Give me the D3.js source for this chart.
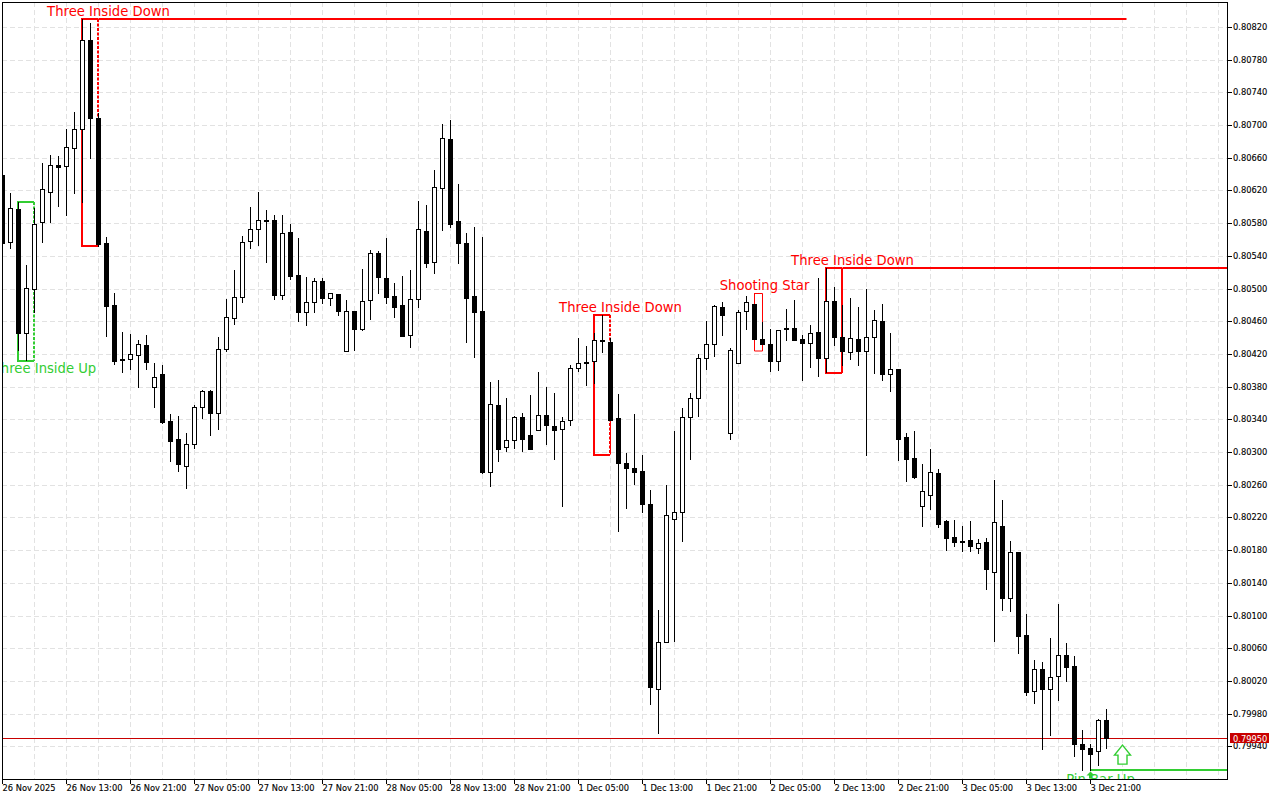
<!DOCTYPE html>
<html>
<head>
<meta charset="utf-8">
<title>Candles</title>
<script src="https://cdn.jsdelivr.net/npm/d3@7/dist/d3.min.js"></script>
<style>
  html, body { margin: 0; padding: 0; background: #fff; }
  svg { display: block; }
  .axis text { font-family: "DejaVu Sans", sans-serif; font-size: 8.3px; fill: #000; stroke: #000; stroke-width: 0.12px; }
  .axis line { stroke: #000; shape-rendering: crispEdges; }
  .label { font-family: "DejaVu Sans", sans-serif; font-size: 13.2px; text-anchor: middle; }
</style>
</head>
<body>
<svg id="chart" width="1280" height="800"></svg>

<script>
// hourly bars
var opens = [
  0.80639,0.80557,0.80597,0.80446,0.80499,0.80581,0.80618,0.80651,0.80650,0.80672,
  0.80695,0.80804,0.80709,0.80556,0.80480,0.80414,0.80414,0.80419,0.80431,0.80380,
  0.80395,0.80338,0.80316,0.80283,0.80310,0.80355,0.80375,0.80348,0.80426,0.80464,
  0.80490,0.80558,0.80573,0.80584,0.80584,0.80492,0.80569,0.80517,0.80471,0.80484,
  0.80509,0.80488,0.80493,0.80424,0.80473,0.80451,0.80486,0.80543,0.80513,0.80491,
  0.80480,0.80443,0.80487,0.80570,0.80532,0.80623,0.80683,0.80583,0.80556,0.80491,
  0.80473,0.80276,0.80358,0.80306,0.80315,0.80343,0.80321,0.80327,0.80345,0.80332,
  0.80328,0.80339,0.80403,0.80410,0.80411,0.80437,0.80435,0.80342,0.80287,0.80280,
  0.80277,0.80236,0.80010,0.80068,0.80218,0.80227,0.80343,0.80366,0.80415,0.80432,
  0.80477,0.80323,0.80409,0.80473,0.80481,0.80438,0.80432,0.80411,0.80452,0.80452,
  0.80438,0.80433,0.80447,0.80415,0.80485,0.80441,0.80422,0.80438,0.80424,0.80441,
  0.80460,0.80395,0.80402,0.80318,0.80293,0.80234,0.80247,0.80274,0.80216,0.80196,
  0.80191,0.80192,0.80183,0.80190,0.80153,0.80209,0.80121,0.80178,0.80076,0.80008,
  0.80035,0.80010,0.80026,0.80052,0.80038,0.79943,0.79938,0.79934,0.79972
];
var highs = [
  0.80639,0.80617,0.80606,0.80529,0.80599,0.80654,0.80663,0.80662,0.80695,0.80716,
  0.80830,0.80825,0.80715,0.80563,0.80495,0.80447,0.80444,0.80437,0.80443,0.80409,
  0.80406,0.80346,0.80344,0.80323,0.80358,0.80376,0.80376,0.80441,0.80487,0.80523,
  0.80564,0.80600,0.80618,0.80596,0.80590,0.80590,0.80579,0.80562,0.80514,0.80513,
  0.80513,0.80495,0.80493,0.80486,0.80473,0.80524,0.80547,0.80546,0.80562,0.80507,
  0.80515,0.80523,0.80607,0.80602,0.80645,0.80701,0.80706,0.80628,0.80568,0.80575,
  0.80563,0.80386,0.80388,0.80366,0.80344,0.80348,0.80370,0.80398,0.80380,0.80372,
  0.80343,0.80406,0.80440,0.80430,0.80446,0.80468,0.80440,0.80371,0.80299,0.80346,
  0.80296,0.80254,0.80107,0.80260,0.80326,0.80354,0.80372,0.80420,0.80460,0.80480,
  0.80484,0.80427,0.80474,0.80491,0.80481,0.80459,0.80451,0.80449,0.80475,0.80486,
  0.80443,0.80455,0.80513,0.80525,0.80502,0.80480,0.80488,0.80477,0.80499,0.80474,
  0.80481,0.80446,0.80402,0.80323,0.80326,0.80285,0.80304,0.80279,0.80217,0.80217,
  0.80209,0.80216,0.80194,0.80195,0.80266,0.80241,0.80191,0.80178,0.80102,0.80046,
  0.80043,0.80072,0.80114,0.80066,0.80050,0.79960,0.79943,0.79973,0.79986
];
var lows = [
  0.80556,0.80550,0.80425,0.80413,0.80471,0.80557,0.80581,0.80601,0.80590,0.80617,
  0.80606,0.80660,0.80552,0.80442,0.80408,0.80398,0.80402,0.80380,0.80402,0.80355,
  0.80336,0.80289,0.80277,0.80256,0.80305,0.80342,0.80321,0.80328,0.80424,0.80457,
  0.80484,0.80550,0.80553,0.80532,0.80487,0.80487,0.80512,0.80460,0.80455,0.80471,
  0.80482,0.80480,0.80468,0.80424,0.80425,0.80449,0.80463,0.80495,0.80482,0.80465,
  0.80442,0.80428,0.80477,0.80526,0.80519,0.80572,0.80575,0.80531,0.80435,0.80416,
  0.80274,0.80258,0.80289,0.80301,0.80305,0.80301,0.80304,0.80327,0.80310,0.80291,
  0.80234,0.80333,0.80399,0.80382,0.80384,0.80422,0.80339,0.80203,0.80231,0.80261,
  0.80227,0.79992,0.79956,0.80068,0.80069,0.80191,0.80291,0.80344,0.80402,0.80417,
  0.80443,0.80316,0.80409,0.80451,0.80438,0.80432,0.80399,0.80400,0.80437,0.80437,
  0.80388,0.80404,0.80393,0.80398,0.80431,0.80406,0.80414,0.80406,0.80296,0.80397,
  0.80388,0.80375,0.80290,0.80265,0.80268,0.80209,0.80230,0.80208,0.80180,0.80185,
  0.80179,0.80179,0.80176,0.80132,0.80069,0.80107,0.80106,0.80054,0.80003,0.79993,
  0.79937,0.79954,0.79997,0.80020,0.79928,0.79911,0.79911,0.79917,0.79938
];
var closes = [
  0.80556,0.80599,0.80446,0.80501,0.80579,0.80622,0.80651,0.80649,0.80673,0.80695,
  0.80804,0.80709,0.80555,0.80479,0.80411,0.80412,0.80420,0.80432,0.80410,0.80392,
  0.80337,0.80313,0.80285,0.80310,0.80355,0.80375,0.80348,0.80426,0.80465,0.80490,
  0.80557,0.80573,0.80584,0.80583,0.80492,0.80568,0.80515,0.80471,0.80484,0.80509,
  0.80488,0.80495,0.80473,0.80473,0.80451,0.80485,0.80543,0.80514,0.80490,0.80477,
  0.80442,0.80487,0.80573,0.80531,0.80624,0.80684,0.80579,0.80556,0.80488,0.80471,
  0.80276,0.80359,0.80304,0.80315,0.80343,0.80316,0.80304,0.80345,0.80333,0.80327,
  0.80338,0.80403,0.80409,0.80409,0.80437,0.80436,0.80339,0.80287,0.80280,0.80276,
  0.80236,0.80013,0.80068,0.80223,0.80227,0.80343,0.80366,0.80415,0.80432,0.80479,
  0.80468,0.80425,0.80471,0.80484,0.80438,0.80432,0.80411,0.80449,0.80451,0.80437,
  0.80433,0.80446,0.80415,0.80485,0.80441,0.80424,0.80440,0.80424,0.80441,0.80462,
  0.80395,0.80402,0.80316,0.80291,0.80269,0.80252,0.80276,0.80212,0.80195,0.80190,
  0.80190,0.80185,0.80189,0.80157,0.80214,0.80121,0.80178,0.80075,0.80006,0.80035,
  0.80010,0.80025,0.80052,0.80037,0.79943,0.79937,0.79931,0.79972,0.79950
];

var priceTicks = [0.80820,0.80780,0.80740,0.80700,0.80660,0.80620,0.80580,0.80540,0.80500,0.80460,0.80420,0.80380,
  0.80340,0.80300,0.80260,0.80220,0.80180,0.80140,0.80100,0.80060,0.80020,0.79980,0.79940];
var timeTicks = [0,8,16,24,32,40,48,56,64,72,80,88,96,104,112,120,128,136];
var timeLabels = ['26 Nov 2025','26 Nov 13:00','26 Nov 21:00','27 Nov 05:00','27 Nov 13:00','27 Nov 21:00',
  '28 Nov 05:00','28 Nov 13:00','28 Nov 21:00','1 Dec 05:00','1 Dec 13:00','1 Dec 21:00',
  '2 Dec 05:00','2 Dec 13:00','2 Dec 21:00','3 Dec 05:00','3 Dec 13:00','3 Dec 21:00'];
var lastPrice = 0.79950;

// candle patterns: first bar, last bar, box high, box low
var patternNames  = ['Three Inside Down','Three Inside Up','Three Inside Down','Shooting Star','Three Inside Down'];
var patternFirst  = [10,2,74,94,103];
var patternLast   = [12,4,76,95,105];
var patternHighs  = [0.80830,0.80606,0.80468,0.80495,0.80525];
var patternLows   = [0.80553,0.80413,0.80298,0.80425,0.80398];
var patternBull   = [false,true,false,false,false];
var labelBars     = [13.25,5.25,77.25,95.25,106.25];
var labelPrices   = [0.80834,0.80397,0.80472,0.80499,0.80529];

var pinBar = 136, pinBarPrice = 0.79911, pinLabelBar = 137.25, pinLabelPrice = 0.79894;
var arrowBar = 140, arrowPrice = 0.79931;
var extendedTopEnd = 140.5;

var RED = '#ff0000', GREEN = '#32cd32';
var left = 2, top_ = 2, right = 1227, bottom = 779;

var svg = d3.select('#chart');
var x = d3.scaleLinear().domain([0, 138]).range([2.5, 1106.5]);
var y = d3.scaleLinear().domain([0.80820, 0.79940]).range([27.5, 746.8]);

svg.append('clipPath').attr('id', 'plot')
  .append('rect').attr('x', left + 1).attr('y', top_ + 1).attr('width', right - left - 1).attr('height', bottom - top_ - 1);

var plot = svg.append('g').attr('clip-path', 'url(#plot)');

drawGrid();
drawPatterns();
plot.append('line').attr('x1', left).attr('x2', right).attr('y1', snap(lastPrice)).attr('y2', snap(lastPrice))
  .attr('stroke', '#c80000').attr('shape-rendering', 'crispEdges');
drawCandles();
drawLabels();
drawAxes();

function snap(price) {
  return Math.floor(y(price)) + 0.5;
}

function drawGrid() {
  var grid = plot.append('g').attr('stroke', '#e2e2e2').attr('stroke-dasharray', '5 3').attr('shape-rendering', 'crispEdges');
  grid.selectAll('.h').data(priceTicks).enter().append('line')
    .attr('class', 'h')
    .attr('x1', left).attr('x2', right)
    .attr('y1', snap).attr('y2', snap);
  var cols = d3.range(4, 153, 4);
  grid.selectAll('.v').data(cols).enter().append('line')
    .attr('class', 'v')
    .attr('x1', function(d) { return x(d); }).attr('x2', function(d) { return x(d); })
    .attr('y1', top_).attr('y2', bottom);
}

function drawPatterns() {
  var g = plot.append('g').attr('fill', 'none');
  patternNames.forEach(function(name, i) {
    var color = patternBull[i] ? GREEN : RED;
    var w = name == 'Shooting Star' ? 1 : 2;
    var off = w == 2 ? -0.5 : 0;
    var x0 = x(patternFirst[i]) + off, x1 = x(patternLast[i]) + off;
    var yt = Math.floor(y(patternHighs[i])) + (w == 2 ? 0 : 0.5), yb = Math.floor(y(patternLows[i])) + (w == 2 ? 0 : 0.5);
    var box = g.append('g').attr('stroke', color).attr('stroke-width', w);
    box.append('path').attr('d', 'M' + x0 + ',' + yt + 'H' + x1);
    box.append('path').attr('d', 'M' + x0 + ',' + (yt - w / 2) + 'V' + (yb + w / 2) + 'H' + x1);
    // last bar side is dotted on the bigger patterns, except the final one
    var side = box.append('path').attr('d', 'M' + x1 + ',' + yt + 'V' + (yb + w / 2));
    if (w == 2 && i != 4) side.attr('stroke-dasharray', '3 1.5');
    // the 1 Dec box has a plain thin side under the body
    if (i == 2) {
      box.append('path').attr('stroke-width', 1)
        .attr('d', 'M' + x(patternLast[i]) + ',' + y(closes[patternLast[i]]) + 'V' + yb);
    }
  });

  // level lines running on from the patterns
  hLine(g, patternLast[0], extendedTopEnd, patternHighs[0], RED);
  hLine(g, patternLast[4], 154, patternHighs[4], RED);
  hLine(g, pinBar, 154, pinBarPrice, GREEN);
}

function hLine(g, fromBar, toBar, price, color) {
  var yy = Math.floor(y(price));
  g.append('line').attr('x1', x(fromBar)).attr('x2', x(toBar)).attr('y1', yy).attr('y2', yy)
    .attr('stroke', color).attr('stroke-width', 2);
}

function drawCandles() {
  var bars = plot.append('g').attr('shape-rendering', 'crispEdges').selectAll('g')
    .data(d3.range(opens.length)).enter().append('g');

  bars.append('line')
    .attr('x1', function(i) { return x(i); }).attr('x2', function(i) { return x(i); })
    .attr('y1', function(i) { return Math.floor(y(highs[i])); })
    .attr('y2', function(i) { return Math.floor(y(lows[i])) + 1; })
    .attr('stroke', '#000');

  bars.append('rect')
    .attr('x', function(i) { return x(i) - 2; })
    .attr('width', 4)
    .attr('y', function(i) { return snap(Math.max(opens[i], closes[i])); })
    .attr('height', function(i) { return snap(Math.min(opens[i], closes[i])) - snap(Math.max(opens[i], closes[i])); })
    .attr('stroke', '#000')
    .attr('fill', function(i) { return closes[i] >= opens[i] ? '#fff' : '#000'; });
}

function drawLabels() {
  patternNames.forEach(function(name, i) {
    plot.append('text').attr('class', 'label')
      .attr('x', x(labelBars[i])).attr('y', y(labelPrices[i]))
      .attr('fill', patternBull[i] ? GREEN : RED)
      .text(name);
  });
  plot.append('text').attr('class', 'label')
    .attr('x', x(pinLabelBar)).attr('y', y(pinLabelPrice))
    .attr('fill', GREEN)
    .text('Pin Bar Up');

  // hollow arrow to the right of the pin bar
  plot.append('path')
    .attr('transform', 'translate(' + x(arrowBar) + ',' + y(arrowPrice) + ')')
    .attr('d', 'M0,-9 L8,1 H4.5 V10 H-4.5 V1 H-8 Z')
    .attr('fill', '#fff').attr('stroke', GREEN).attr('stroke-width', 1.4);

  // little arrow under the pin bar itself
  plot.append('path')
    .attr('transform', 'translate(' + x(pinBar) + ',' + y(pinBarPrice) + ')')
    .attr('d', 'M0,1 L4,5 H1.5 V8 H-1.5 V5 H-4 Z')
    .attr('fill', GREEN);
}

function drawAxes() {
  var yAxis = d3.axisRight(y).tickValues(priceTicks).tickSize(5).tickPadding(1).offset(0)
    .tickFormat(d3.format('.5f'));
  var gy = svg.append('g').attr('class', 'axis').attr('transform', 'translate(' + right + ',0)').call(yAxis);
  gy.select('.domain').remove();
  gy.selectAll('.tick').attr('transform', function(d) { return 'translate(0,' + snap(d) + ')'; });

  var xAxis = d3.axisBottom(x).tickValues(timeTicks).tickSize(5).tickPadding(1).offset(0)
    .tickFormat(function(d, i) { return timeLabels[i]; });
  var gx = svg.append('g').attr('class', 'axis').attr('transform', 'translate(0,' + bottom + ')').call(xAxis);
  gx.select('.domain').remove();
  gx.selectAll('text').attr('text-anchor', 'start');

  // frame
  svg.append('rect')
    .attr('x', left + 0.5).attr('y', top_ + 0.5)
    .attr('width', right - left).attr('height', bottom - top_)
    .attr('fill', 'none').attr('stroke', '#000').attr('shape-rendering', 'crispEdges');

  // current price tag
  svg.append('rect')
    .attr('x', 1230).attr('y', snap(lastPrice) - 5.5)
    .attr('width', 39).attr('height', 10)
    .attr('fill', '#c80000');
  svg.append('text')
    .attr('x', 1233).attr('y', snap(lastPrice) + 3)
    .attr('fill', '#fff')
    .style('font-family', '"DejaVu Sans", sans-serif').style('font-size', '8.3px')
    .text(d3.format('.5f')(lastPrice));
}
</script>
</body>
</html>
